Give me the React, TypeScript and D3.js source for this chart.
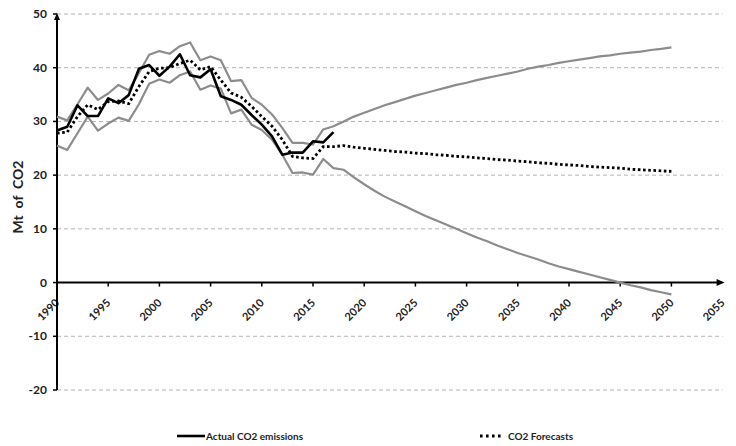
import React from "react";
import * as d3 from "d3";

const START_YEAR = 1990;
const yearTicks = [1990, 1995, 2000, 2005, 2010, 2015, 2020, 2025, 2030, 2035, 2040, 2045, 2050, 2055];
const valueTicks = [-20, -10, 0, 10, 20, 30, 40, 50];

const actual = [28.3, 29.0, 33.0, 31.0, 31.0, 34.3, 33.4, 34.9, 39.8, 40.5, 38.5, 40.2, 42.5, 38.6, 38.2, 39.7, 34.7, 34.0, 33.1, 31.2, 29.4, 27.2, 23.8, 24.2, 24.2, 26.3, 26.1, 28.0];

const forecast = [27.8, 28.0, 30.9, 33.1, 32.2, 33.7, 33.8, 33.3, 36.5, 39.3, 39.9, 40.0, 40.8, 41.4, 39.6, 40.2, 37.7, 35.3, 34.5, 32.8, 30.9, 29.1, 26.6, 23.5, 23.2, 23.1, 25.3, 25.3,
  25.5, 25.2, 25.0, 24.8, 24.6, 24.4, 24.3, 24.1, 24.0, 23.8, 23.7, 23.5, 23.4, 23.2, 23.1, 22.9, 22.8, 22.6, 22.5, 22.3, 22.2, 22.0, 21.9, 21.8, 21.6, 21.5, 21.4, 21.3, 21.1, 21.0, 20.9, 20.8, 20.7];

const upper = [30.9, 30.2, 33.2, 36.3, 34.0, 35.2, 36.8, 35.8, 39.0, 42.4, 43.1, 42.6, 44.0, 44.7, 41.4, 42.1, 41.4, 37.5, 37.7, 34.4, 33.1, 31.3, 28.8, 26.0, 26.0, 25.7, 28.5, 29.1,
  30.0, 30.9, 31.6, 32.3, 33.0, 33.6, 34.2, 34.8, 35.3, 35.8, 36.3, 36.8, 37.2, 37.7, 38.1, 38.5, 38.9, 39.3, 39.8, 40.2, 40.5, 40.9, 41.2, 41.5, 41.8, 42.1, 42.3, 42.6, 42.8, 43.0, 43.3, 43.5, 43.8];

const lower = [25.5, 24.7, 27.8, 30.9, 28.3, 29.6, 30.7, 30.1, 33.2, 37.0, 37.8, 37.2, 38.6, 39.3, 35.9, 36.7, 36.1, 31.5, 32.2, 29.4, 28.4, 26.6, 23.8, 20.4, 20.5, 20.1, 23.0, 21.3,
  21.0, 19.6, 18.3, 17.1, 16.0, 15.1, 14.2, 13.3, 12.4, 11.6, 10.8, 10.0, 9.2, 8.4, 7.7, 6.9, 6.2, 5.5, 4.9, 4.3, 3.6, 3.0, 2.5, 2.0, 1.5, 1.0, 0.5, 0.0, -0.5, -0.9, -1.4, -1.8, -2.2];

const legendLabels = ["Actual CO2 emissions", "CO2 Forecasts"];

export default function App() {
  const W = 736, H = 446;
  const x = d3.scaleLinear().domain([1990, 2055]).range([57, 722.6]);
  const y = d3.scaleLinear().domain([-20, 50]).range([390, 14]);
  const line = d3.line<number>().x((_, i) => x(START_YEAR + i)).y((d) => y(d));
  const font = "Lato, 'Liberation Sans', sans-serif";
  const gray = "#8c8c8c";
  const x0 = x(1990);
  const y0 = y(0);
  const xEnd = x(2055);
  return (
    <svg width={W} height={H} style={{ position: "absolute", left: 0, top: 0, background: "#fff" }}>
      {/* gridlines */}
      {valueTicks.filter((v) => v !== 0).map((v) => (
        <line key={"g" + v} x1={x0} x2={xEnd} y1={y(v)} y2={y(v)} stroke="#b3b3b3" strokeWidth={1} strokeDasharray="4,3" />
      ))}
      {/* y ticks & labels */}
      {valueTicks.map((v) => (
        <g key={"yt" + v}>
          <line x1={x0 - 4} x2={x0} y1={y(v)} y2={y(v)} stroke="#000" strokeWidth={1.5} />
          <text x={47} y={y(v) + 4} textAnchor="end" fontFamily={font} fontWeight={700} fontSize={12} fill="#222">{v}</text>
        </g>
      ))}
      {/* x ticks & labels */}
      {yearTicks.map((t) => (
        <g key={"xt" + t}>
          {t > 1990 && t < 2055 && <line x1={x(t)} x2={x(t)} y1={y0} y2={y0 + 4} stroke="#000" strokeWidth={1.5} />}
          <text transform={`translate(${x(t) + 3},${y0 + 21}) rotate(-45)`} textAnchor="end" fontFamily={font} fontWeight={700} fontSize={11} fill="#222">{t}</text>
        </g>
      ))}
      {/* axes */}
      <line x1={x0} x2={x0} y1={y(-20)} y2={y(50) + 2} stroke="#000" strokeWidth={2} />
      <path d={`M${x0},${y(50) - 1} L${x0 - 3},${y(50) + 6} L${x0 + 3},${y(50) + 6} Z`} fill="#000" />
      <line x1={x0} x2={xEnd - 2} y1={y0} y2={y0} stroke="#000" strokeWidth={2} />
      <path d={`M${xEnd + 2},${y0} L${xEnd - 6},${y0 - 3.5} L${xEnd - 6},${y0 + 3.5} Z`} fill="#000" />
      {/* series */}
      <path d={line(upper) || ""} fill="none" stroke={gray} strokeWidth={2.2} strokeLinejoin="round" />
      <path d={line(lower) || ""} fill="none" stroke={gray} strokeWidth={2.2} strokeLinejoin="round" />
      <path d={line(forecast) || ""} fill="none" stroke="#000" strokeWidth={2.8} strokeDasharray="2.6,2.6" />
      <path d={line(actual) || ""} fill="none" stroke="#000" strokeWidth={2.6} strokeLinejoin="round" />
      {/* y title */}
      <text transform={`translate(23,197) rotate(-90)`} textAnchor="middle" fontFamily={font} fontWeight={700} fontSize={14} fill="#222" style={{ whiteSpace: "pre" }}>{"Mt  of  CO2"}</text>
      {/* legend */}
      <line x1={177} x2={205} y1={436} y2={436} stroke="#000" strokeWidth={2.6} />
      <text x={206} y={439.5} fontFamily={font} fontWeight={700} fontSize={10} fill="#222">{legendLabels[0]}</text>
      <line x1={480} x2={503} y1={436} y2={436} stroke="#000" strokeWidth={2.8} strokeDasharray="2.6,3.4" />
      <text x={508} y={439.5} fontFamily={font} fontWeight={700} fontSize={10} fill="#222">{legendLabels[1]}</text>
    </svg>
  );
}
